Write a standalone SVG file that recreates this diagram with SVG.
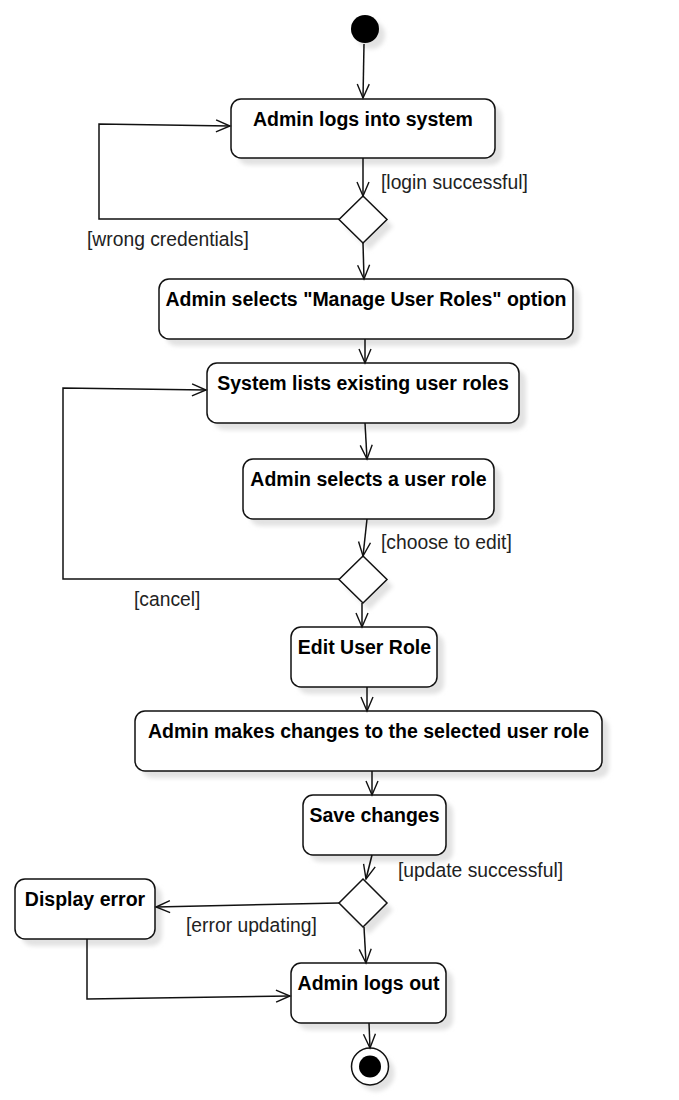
<svg xmlns="http://www.w3.org/2000/svg" width="679" height="1100" viewBox="0 0 679 1100">
<defs>
<style>
.node rect.box{fill:#fff;stroke:#111;stroke-width:1.5}
.sh{fill:#e2e2e2;filter:url(#blur)}
.t{font-family:"Liberation Sans",Arial,sans-serif;font-weight:bold;font-size:19.5px;fill:#000;text-anchor:middle}
.lbl{font-family:"Liberation Sans",Arial,sans-serif;font-size:19.3px;fill:#222}
.dia{fill:#fff;stroke:#111;stroke-width:1.5}
#connectors path{fill:none;stroke:#111;stroke-width:1.5;marker-end:url(#arr)}
</style>
<filter id="blur" x="-20%" y="-20%" width="140%" height="140%"><feGaussianBlur stdDeviation="2"/></filter>
<marker id="arr" markerUnits="userSpaceOnUse" markerWidth="18" markerHeight="16" refX="15" refY="7" orient="auto">
<path d="M1,1 L15,7 L1,13" fill="none" stroke="#111" stroke-width="1.4"/>
</marker>
</defs>
<rect width="679" height="1100" fill="#fff"/>

<g id="start">
<circle class="sh" cx="371" cy="35" r="14"/>
<circle cx="365" cy="29" r="14" fill="#000"/>
</g>

<g id="n1" class="node">
<rect class="sh" x="238" y="106" width="264" height="59" rx="10"/>
<rect class="box" x="231" y="99" width="264" height="59" rx="10"/>
<text class="t" x="363" y="126">Admin logs into system</text>
</g>

<g id="d1">
<polygon class="sh" points="369,203 393,226.5 369,250 345,226.5"/>
<polygon class="dia" points="363,196 387,219.5 363,243 339,219.5"/>
</g>

<g id="n2" class="node">
<rect class="sh" x="166" y="286" width="414" height="60" rx="10"/>
<rect class="box" x="159" y="279" width="414" height="60" rx="10"/>
<text class="t" x="366" y="306">Admin selects "Manage User Roles" option</text>
</g>

<g id="n3" class="node">
<rect class="sh" x="214" y="370" width="312" height="60" rx="10"/>
<rect class="box" x="207" y="363" width="312" height="60" rx="10"/>
<text class="t" x="363" y="390">System lists existing user roles</text>
</g>

<g id="n4" class="node">
<rect class="sh" x="250" y="466" width="251" height="60" rx="10"/>
<rect class="box" x="243" y="459" width="251" height="60" rx="10"/>
<text class="t" x="368.5" y="486">Admin selects a user role</text>
</g>

<g id="d2">
<polygon class="sh" points="369,563 393,586.5 369,610 345,586.5"/>
<polygon class="dia" points="363,556 387,579.5 363,603 339,579.5"/>
</g>

<g id="n5" class="node">
<rect class="sh" x="298" y="634" width="146" height="60" rx="10"/>
<rect class="box" x="291" y="627" width="146" height="60" rx="10"/>
<text class="t" x="364.5" y="654">Edit User Role</text>
</g>

<g id="n6" class="node">
<rect class="sh" x="142" y="718" width="467" height="60" rx="10"/>
<rect class="box" x="135" y="711" width="467" height="60" rx="10"/>
<text class="t" x="368.5" y="738">Admin makes changes to the selected user role</text>
</g>

<g id="n7" class="node">
<rect class="sh" x="310" y="802" width="143" height="60" rx="10"/>
<rect class="box" x="303" y="795" width="143" height="60" rx="10"/>
<text class="t" x="374.5" y="822">Save changes</text>
</g>

<g id="d3">
<polygon class="sh" points="369,886 393,910 369,934 345,910"/>
<polygon class="dia" points="363,879 387,903 363,927 339,903"/>
</g>

<g id="n8" class="node">
<rect class="sh" x="22" y="886" width="140" height="60" rx="10"/>
<rect class="box" x="15" y="879" width="140" height="60" rx="10"/>
<text class="t" x="85" y="906">Display error</text>
</g>

<g id="n9" class="node">
<rect class="sh" x="298" y="970" width="155" height="60" rx="10"/>
<rect class="box" x="291" y="963" width="155" height="60" rx="10"/>
<text class="t" x="368.5" y="990">Admin logs out</text>
</g>

<g id="end">
<circle class="sh" cx="376" cy="1073" r="18.5"/>
<circle cx="370" cy="1066.5" r="18.5" fill="#fff" stroke="#111" stroke-width="1.5"/>
<circle cx="370" cy="1066.5" r="11" fill="#000"/>
</g>

<g id="connectors">
<path d="M364,44 L363,98"/>
<path d="M363,158 L363,196"/>
<path d="M339,219 L99,219 L99,124 L230,126"/>
<path d="M363,243 L364,279"/>
<path d="M365,339 L365,363"/>
<path d="M365,423 L367,459"/>
<path d="M367,519 L363,556"/>
<path d="M339,579 L63,579 L63,388 L206,390"/>
<path d="M362,603 L362,627"/>
<path d="M367,687 L367,711"/>
<path d="M372,771 L372,795"/>
<path d="M372,855 L366,879"/>
<path d="M339,903 L156,907"/>
<path d="M364,927 L366,963"/>
<path d="M87,939 L87,999 L290,996"/>
<path d="M369,1023 L370,1048"/>
</g>

<g id="labels">
<text class="lbl" x="381" y="189">[login successful]</text>
<text class="lbl" x="87" y="246">[wrong credentials]</text>
<text class="lbl" x="381" y="549">[choose to edit]</text>
<text class="lbl" x="134" y="606">[cancel]</text>
<text class="lbl" x="398" y="877">[update successful]</text>
<text class="lbl" x="186" y="932">[error updating]</text>
</g>
</svg>
